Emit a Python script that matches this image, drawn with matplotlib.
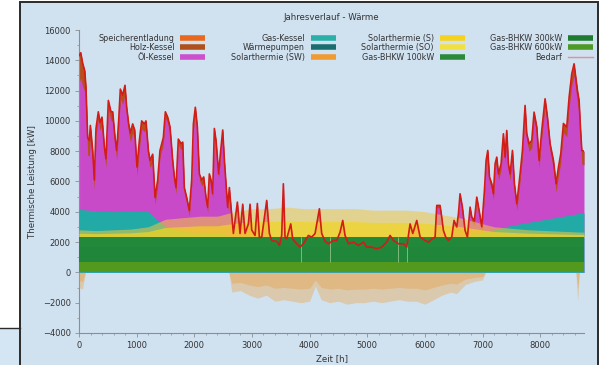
import numpy as np
import matplotlib
matplotlib.use("Agg")
import matplotlib.pyplot as plt
from matplotlib.patches import Rectangle
from matplotlib.lines import Line2D
from matplotlib.ticker import MultipleLocator

plt.rcParams['font.family'] = ['DejaVu Sans']

# ---------------- data ----------------
# heat demand (Bedarf), hours / kW
bedarf_h = [0, 30, 64, 100, 121, 150, 179, 197, 237, 266, 295, 335, 364, 399, 440, 468, 509, 555, 584, 625,
            654, 688, 717, 758, 798, 827, 862, 891, 931, 966, 1006, 1047, 1087, 1134, 1162, 1203, 1232, 1278,
            1319, 1365, 1405, 1463, 1498, 1538, 1579, 1625, 1654, 1683, 1723, 1770, 1799, 1827, 1868, 1914,
            1955, 1984, 2018, 2053, 2088, 2128, 2163, 2203, 2232, 2261, 2290, 2319, 2348, 2377, 2423, 2452,
            2493, 2522, 2550, 2579, 2608, 2637,
            2678, 2747, 2793, 2840, 2880, 2938, 2967, 2996, 3054, 3094, 3129, 3170, 3256, 3303, 3343, 3430,
            3476, 3516, 3545, 3574, 3603, 3673, 3707, 3777, 3834, 3892, 3979, 4037, 4095, 4170, 4210, 4268,
            4326, 4413, 4471, 4528, 4575, 4615, 4673, 4760, 4847, 4934, 4991, 5078, 5165, 5251, 5338, 5396,
            5454, 5541, 5627, 5685, 5743, 5790, 5859, 5917,
            6003, 6061, 6119, 6177, 6206, 6263, 6292, 6321, 6362, 6408, 6466, 6506, 6553, 6582, 6610, 6651,
            6697, 6738, 6784, 6813, 6859, 6900, 6940, 6987, 7033, 7062, 7091, 7120, 7160, 7189, 7218, 7247,
            7276, 7322, 7362, 7391, 7420, 7449, 7478, 7519, 7553, 7594, 7652, 7692, 7738, 7767, 7808, 7854,
            7894, 7941, 7981, 8027, 8085, 8126, 8172, 8230, 8276, 8317, 8357, 8403, 8461, 8502, 8548, 8588,
            8617, 8646, 8675, 8698, 8722, 8760]
bedarf_kw = [14300, 14500, 13800, 13300, 12200, 8900, 8700, 9700, 8050, 6100, 9500, 10600, 9900, 10250, 8300, 7500,
             11350, 10600, 10600, 8900, 8050, 10000, 12100, 11700, 12350, 10900, 9800, 9200, 9800, 9400, 6950,
             8700, 10000, 9800, 10000, 8050, 7400, 7800, 4950, 6100, 8050, 8900, 10600, 10250, 9600, 7400, 6300,
             5600, 8800, 8500, 8600, 5600, 4950, 4100, 6100, 9800, 10900, 9600, 6500, 6100, 6300, 4950, 4300,
             6500, 6100, 5200, 9500, 8700, 6500, 7800, 9400, 7400, 5850, 4300, 5600, 4300,
             2570, 4640, 2570, 4500, 2570, 3200, 4500, 2800, 2440, 4550, 2300, 2330, 4750, 2570, 2100, 2050,
             1780, 2440, 5850, 2300, 2220, 3200, 2200, 1890, 1670, 1890, 2440, 2330, 2570, 4200, 2570, 2050,
             1890, 2110, 2110, 2650, 3430, 2440, 1890, 2000, 1780, 2000, 1670, 1670, 1560, 1670, 2000, 2440,
             2110, 1890, 1890, 1670, 3200, 2570, 3430, 2330,
             2110, 2000, 2200, 2330, 4420, 4420, 3650, 2770, 2330, 2110, 2330, 3430, 3000, 3870, 5190, 4300,
             2770, 2330, 4310, 3650, 3430, 4970, 4100, 3010, 5410, 7390, 8050, 6300, 5850, 5190, 7170, 7610,
             6500, 7170, 9150, 7610, 9370, 7170, 6500, 8050, 5850, 4530, 6510, 8050, 11020, 9150, 8490, 8710,
             10580, 9600, 7390, 9370, 11460, 10250, 8490, 7390, 5850, 6950, 7830, 9830, 9600, 11570, 13110, 13770,
             12890, 12010, 11350, 9590, 8050, 8000]

# coarse grid for the other generators (hours)
grid_h = [0, 300, 600, 900, 1200, 1500, 1800, 2100, 2400, 2700, 3000, 3300, 3600, 3900, 4200, 4500,
          4800, 5100, 5400, 5700, 6000, 6300, 6600, 6900, 7200, 7500, 7800, 8100, 8400, 8700, 8760]
gas_kessel = [1850, 1750, 1700, 1750, 1700, 700, 400, 300, 300, 0, 0, 0, 0, 0, 0, 0,
              0, 0, 0, 0, 0, 0, 0, 300, 500, 800, 1000, 1200, 1400, 1600, 1600]
holz_kessel = [1800, 500, 600, 600, 500, 400, 400, 400, 300, 200, 150, 150, 150, 150, 150, 150,
               150, 150, 150, 150, 150, 150, 200, 300, 400, 400, 500, 500, 600, 900, 900]
solar_peak = [500, 450, 500, 550, 700, 1200, 1300, 1400, 1400, 1700, 1900, 1900, 2000, 1900, 1900, 1900,
              1900, 1800, 1800, 1800, 1700, 1500, 1300, 1000, 700, 600, 500, 450, 400, 350, 350]

# BHKW base load (kW)
bhkw_600 = [660]
bhkw_300 = [1000]
bhkw_100 = [650]
bhkw_off_h = [3850, 4355, 5535, 5690]

# storage charging (negative), envelope
neg_h = [0, 60, 110, 2600, 2650, 2800, 2950, 3100, 3250, 3400, 3550, 3700, 3850, 4000, 4100, 4200,
         4350, 4500, 4650, 4800, 4950, 5100, 5250, 5400, 5550, 5700, 5850, 6000, 6150, 6300, 6450,
         6550, 6700, 6850, 7000, 7050, 8620, 8650, 8680, 8760]
neg_kw = [-1000, -1100, 0, 0, -1300, -1200, -1500, -1700, -1500, -1900, -1800, -1900, -2000, -1900, -900,
          -1800, -2000, -1900, -2100, -2000, -2000, -1900, -2000, -1900, -1800, -1900, -1900, -2100, -1800,
          -1500, -1300, -1400, -800, -600, -500, 0, 0, -1900, 0, 0]

labels = ["Speicherentladung", "Holz-Kessel", "Öl-Kessel",
          "Gas-Kessel", "Wärmepumpen", "Solarthermie (SW)",
          "Solarthermie (S)", "Solarthermie (SO)", "Gas-BHKW 100kW",
          "Gas-BHKW 300kW", "Gas-BHKW 600kW", "Bedarf"]
colors = ["#e8681e", "#b0501a", "#cc4fcc",
          "#2ab0a8", "#1a6e70", "#f09a30",
          "#f5d21e", "#f2e040", "#2a8a3a",
          "#1f7a32", "#4e9a26", "#e0909a"]
cmap = dict(zip(labels, colors))

# ---------------- figure ----------------
W, H = 602, 365
fig = plt.figure(figsize=(W / 100, H / 100), dpi=100, facecolor="white")
bg = "#d0e1f0"
fig.patches.append(Rectangle((20 / W, -0.02), (598 - 20) / W, 1.02 - 1.5 / H, transform=fig.transFigure,
                             facecolor=bg, edgecolor="#2b2b2b", lw=1.4, zorder=-10))
fig.patches.append(Rectangle((0, -0.02), 19 / W, 0.02 + (H - 328) / H, transform=fig.transFigure,
                             facecolor="#d4e5f3", edgecolor="none", zorder=-10))
fig.lines.append(Line2D([0, 20 / W], [1 - 328 / H, 1 - 328 / H], transform=fig.transFigure,
                        color="#2b2b2b", lw=1.0, zorder=-9))

ax = fig.add_axes([79 / W, 1 - 333 / H, (584 - 79) / W, (333 - 30) / H])
ax.set_facecolor("none")
ax.set_zorder(5)

th = np.array(bedarf_h, float)
dem = np.array(bedarf_kw, float)
gh = np.array(grid_h, float)
base = bhkw_600[0] + bhkw_300[0] + bhkw_100[0]

# Öl-Kessel fills the demand, Holz-Kessel on top of it
ax.fill_between(th, 0, dem, color="#c94ac9", lw=0, zorder=1)
holz_i = np.interp(th, gh, holz_kessel)
ax.fill_between(th, np.maximum(dem - holz_i, 0), dem, color="#b84e1c", lw=0, zorder=2)
# Gas-Kessel
ax.fill_between(gh, 0, base + np.array(gas_kessel), color="#22aaa6", lw=0, zorder=3)
# Solarthermie
sp = np.array(solar_peak, float)
ax.fill_between(gh, base, base + sp, color="#f0c840", alpha=0.55, lw=0, zorder=4)
ax.fill_between(gh, base, base + 0.55 * sp, color="#f2d422", alpha=0.7, lw=0, zorder=4)
# Gas-BHKW bands
ax.fill_between([0, 8760], 0, bhkw_600[0], color="#52991e", lw=0, zorder=5)
ax.fill_between([0, 8760], bhkw_600[0], bhkw_600[0] + bhkw_300[0], color="#20863a", lw=0, zorder=5)
ax.fill_between([0, 8760], bhkw_600[0] + bhkw_300[0], base, color="#22883a", lw=0, zorder=5)
ax.vlines(bhkw_off_h, bhkw_600[0], base, color="#7cba7a", lw=0.7, zorder=6)
# storage charging
nh = np.array(neg_h, float)
nk = np.array(neg_kw, float)
ax.fill_between(nh, nk, 0, color="#eaa850", alpha=0.42, lw=0, zorder=4)
ax.fill_between(nh, 0.55 * nk, 0, color="#e99a3a", alpha=0.35, lw=0, zorder=4)
# demand line
ax.plot(th, dem, color="#d21c16", lw=1.2, zorder=7)

ax.set_xlim(0, 8760)
ax.set_ylim(-4000, 16000)
ax.xaxis.set_major_locator(MultipleLocator(1000))
ax.xaxis.set_minor_locator(MultipleLocator(200))
ax.yaxis.set_major_locator(MultipleLocator(2000))
ax.yaxis.set_minor_locator(MultipleLocator(1000))
ax.set_xticks([0, 1000, 2000, 3000, 4000, 5000, 6000, 7000, 8000])
for s in ["top", "right"]:
    ax.spines[s].set_visible(False)
for s in ["left", "bottom"]:
    ax.spines[s].set_color("#8a8f96")
    ax.spines[s].set_linewidth(0.8)
ax.tick_params(axis="both", which="major", labelsize=6.0, colors="#8a8f96", labelcolor="#333333",
               length=3, width=0.6, pad=3)
ax.tick_params(axis="both", which="minor", colors="#8a8f96", length=1.5, width=0.5)
ax.set_xlabel("Zeit [h]", fontsize=6.2, color="#333333", labelpad=3)
ax.set_ylabel("Thermische Leistung [kW]", fontsize=6.2, color="#333333", labelpad=4)

fig.text(331 / W, 1 - 17 / H, "Jahresverlauf - Wärme", fontsize=6.2, color="#333333",
         ha="center", va="center")

handles = []
for lab in labels:
    if lab == "Bedarf":
        handles.append(Line2D([], [], color=cmap[lab], lw=1.0))
    else:
        handles.append(Line2D([], [], color=cmap[lab], lw=4.0, solid_capstyle="butt"))
leg = fig.legend(handles, labels, ncol=4, markerfirst=False, frameon=False, fontsize=5.8,
                 loc="upper right", bbox_to_anchor=(598 / W, 1 - 29 / H), handlelength=3.1,
                 handletextpad=0.7, columnspacing=3.2, labelspacing=0.05, borderpad=0.1)
for t in leg.get_texts():
    t.set_color("#333333")

fig.savefig("out.png", dpi=100, facecolor=fig.get_facecolor())
